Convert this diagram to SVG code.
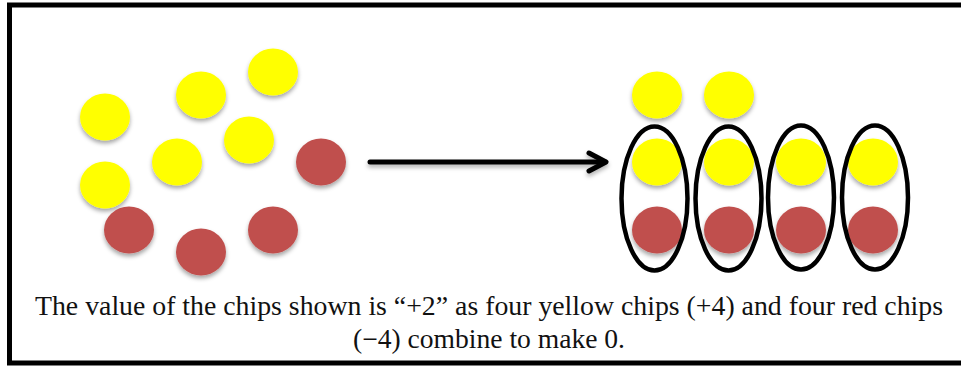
<svg xmlns="http://www.w3.org/2000/svg" width="961" height="367" viewBox="0 0 961 367">
<style>
.y{fill:#ffff00;filter:url(#sh)}
.r{fill:#c0504d;filter:url(#sh)}
.ring{fill:none;stroke:#000;stroke-width:4.5}
.cap{font-family:"Liberation Serif",serif;font-size:27px;fill:#111}
</style>
<defs>
<filter id="sh" x="-30%" y="-30%" width="160%" height="170%">
<feDropShadow dx="0" dy="3" stdDeviation="2" flood-color="#000" flood-opacity="0.35"/>
</filter>
<filter id="lsh" x="-5%" y="-100%" width="110%" height="300%">
<feDropShadow dx="0" dy="3" stdDeviation="2" flood-color="#000" flood-opacity="0.3"/>
</filter>
</defs>
<rect x="0" y="0" width="961" height="367" fill="#fff"/>
<rect id="frame" x="9.5" y="5" width="960" height="358" fill="none" stroke="#000" stroke-width="5"/>
<g id="left-chips">
<ellipse class="y" cx="105" cy="117" rx="25" ry="23.5"/>
<ellipse class="y" cx="201" cy="95" rx="25" ry="23.5"/>
<ellipse class="y" cx="273" cy="72" rx="25" ry="23.5"/>
<ellipse class="y" cx="249" cy="140" rx="25" ry="23.5"/>
<ellipse class="y" cx="177" cy="162" rx="25" ry="23.5"/>
<ellipse class="y" cx="105" cy="185" rx="25" ry="23.5"/>
<ellipse class="r" cx="321" cy="162" rx="25" ry="23.5"/>
<ellipse class="r" cx="129" cy="230" rx="25" ry="23.5"/>
<ellipse class="r" cx="201" cy="252" rx="25" ry="23.5"/>
<ellipse class="r" cx="273" cy="230" rx="25" ry="23.5"/>
</g>
<g id="connectors" filter="url(#lsh)">
<line x1="370" y1="162" x2="605" y2="162" stroke="#000" stroke-width="5" stroke-linecap="round"/>
<polyline points="589,153 606,162 589,171" fill="none" stroke="#000" stroke-width="5" stroke-linecap="round" stroke-linejoin="round"/>
</g>
<g id="right-chips">
<ellipse class="y" cx="657" cy="95" rx="25" ry="23.5"/>
<ellipse class="y" cx="729" cy="95" rx="25" ry="23.5"/>
<ellipse class="y" cx="657" cy="162" rx="25" ry="23.5"/>
<ellipse class="y" cx="729" cy="162" rx="25" ry="23.5"/>
<ellipse class="y" cx="801" cy="162" rx="25" ry="23.5"/>
<ellipse class="y" cx="873" cy="162" rx="25" ry="23.5"/>
<ellipse class="r" cx="657" cy="230" rx="25" ry="23.5"/>
<ellipse class="r" cx="729" cy="230" rx="25" ry="23.5"/>
<ellipse class="r" cx="801" cy="230" rx="25" ry="23.5"/>
<ellipse class="r" cx="873" cy="230" rx="25" ry="23.5"/>
</g>
<g id="pairs">
<ellipse class="ring" cx="654.5" cy="198.5" rx="33" ry="72"/>
<ellipse class="ring" cx="728.5" cy="198.5" rx="33" ry="72"/>
<ellipse class="ring" cx="801" cy="197.5" rx="33" ry="72"/>
<ellipse class="ring" cx="875" cy="197.5" rx="33" ry="72"/>
</g>
<g id="caption">
<text class="cap" x="35" y="315" textLength="908" lengthAdjust="spacingAndGlyphs">The value of the chips shown is “+2” as four yellow chips (+4) and four red chips</text>
<text class="cap" x="353" y="348" textLength="272" lengthAdjust="spacingAndGlyphs">(−4) combine to make 0.</text>
</g>
</svg>
